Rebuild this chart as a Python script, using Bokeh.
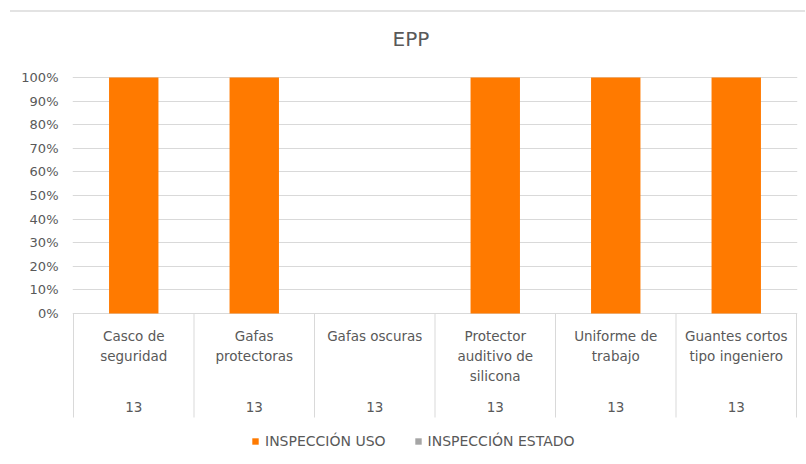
from bokeh.plotting import figure
from bokeh.models import (Range1d, FixedTicker, NumeralTickFormatter, Legend, LegendItem,
                          ColumnDataSource, Div, InlineStyleSheet)
from bokeh.layouts import column
from bokeh.core.properties import value
from bokeh.embed import file_html
from bokeh.resources import INLINE

# ---- data ----
categories = ["Casco de\nseguridad", "Gafas\nprotectoras", "Gafas oscuras",
              "Protector\nauditivo de\nsilicona", "Uniforme de\ntrabajo",
              "Guantes cortos\ntipo ingeniero"]
counts = ["13", "13", "13", "13", "13", "13"]
inspeccion_uso = [1.0, 1.0, 0.0, 1.0, 1.0, 1.0]
inspeccion_estado = [0.0, 0.0, 0.0, 0.0, 0.0, 0.0]
y_ticks = [0, 0.1, 0.2, 0.3, 0.4, 0.5, 0.6, 0.7, 0.8, 0.9, 1.0]

ORANGE = "#FF7A00"
GRAY = "#A5A5A5"
TEXT = "#595959"
LINE = "#D9D9D9"
FONT = "DejaVu Sans"

PX = 236.0          # pixels per 100 %
UNIT = 120.5        # pixels per category
n = len(categories)
xs = [i + 0.5 for i in range(n)]

p = figure(width=806, height=452, output_backend="svg", toolbar_location=None,
           frame_width=725, frame_height=382,
           x_range=Range1d(-1 / UNIT, n + 1 / UNIT),
           y_range=Range1d(-143 / PX, 1 + 3 / PX),
           min_border_left=72, min_border_top=70, min_border_bottom=0, min_border_right=9)
p.outline_line_color = None
p.background_fill_color = "white"
p.border_fill_alpha = 0

# title
p.title.text = "EPP"
p.title.text_font = FONT
p.title.text_font_size = "20px"
p.title.text_font_style = "normal"
p.title.text_color = TEXT
p.title.align = "left"
p.title.vertical_align = "top"
p.title.offset = 320
p.title.standoff = 44

# axes
p.xaxis.visible = False
p.xgrid.visible = False
p.yaxis.ticker = FixedTicker(ticks=y_ticks)
p.yaxis.formatter = NumeralTickFormatter(format="0%")
p.yaxis.axis_line_color = None
p.yaxis.major_tick_line_color = None
p.yaxis.minor_tick_line_color = None
p.yaxis.major_tick_out = 0
p.yaxis.major_label_standoff = 14
p.yaxis.major_label_text_font = FONT
p.yaxis.major_label_text_font_size = "13px"
p.yaxis.major_label_text_color = TEXT
p.ygrid.ticker = FixedTicker(ticks=y_ticks)
p.ygrid.grid_line_color = LINE
p.ygrid.grid_line_width = 1

# category separators below the axis
sep_x = list(range(n + 1))
p.segment(x0=sep_x, y0=[0] * (n + 1), x1=sep_x, y1=[-104 / PX] * (n + 1),
          line_color=LINE, line_width=1)

# bars
src = ColumnDataSource(dict(x=xs, uso=inspeccion_uso, estado=inspeccion_estado,
                            cat=categories, cnt=counts))
r_uso = p.vbar(x="x", top="uso", bottom=0, width=0.41, source=src,
               fill_color=ORANGE, line_color=None)
r_est = p.vbar(x="x", top="estado", bottom=0, width=0.41, source=src,
               fill_color=GRAY, line_color=None)

# category labels
p.text(x="x", y=-14 / PX, text="cat", source=src, text_font=value(FONT),
       text_font_size="13.5px", text_color=TEXT, text_align="center",
       text_baseline="top", text_line_height=1.25)
p.text(x="x", y=-93 / PX, text="cnt", source=src, text_font=value(FONT),
       text_font_size="13.5px", text_color=TEXT, text_align="center",
       text_baseline="middle")

# legend
legend = Legend(items=[LegendItem(label="INSPECCIÓN USO", renderers=[r_uso]),
                       LegendItem(label="INSPECCIÓN ESTADO", renderers=[r_est])],
                orientation="horizontal", location=(179, 7),
                glyph_width=8, glyph_height=8, label_standoff=6, spacing=28,
                label_text_font=FONT, label_text_font_size="14px",
                label_text_color=TEXT, background_fill_alpha=0,
                border_line_color=None, padding=4, margin=0)
p.add_layout(legend, "center")

line_css = InlineStyleSheet(css=":host { background-color: #E3E3E3; display: block; }")
top_line = Div(text="", width=795, height=2, margin=(10, 0, -8, 10),
               styles={"background-color": "#E3E3E3"}, stylesheets=[line_css])
layout = column(top_line, p, spacing=0)

open("out.html", "w").write(file_html(layout, INLINE))
